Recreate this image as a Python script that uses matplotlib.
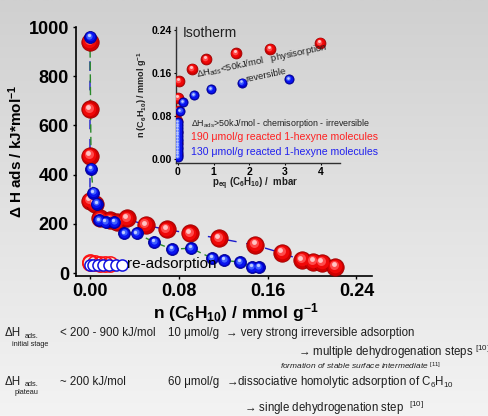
import numpy as np
import matplotlib
matplotlib.use("Agg")
import matplotlib.pyplot as plt
from matplotlib.colors import LinearSegmentedColormap
from matplotlib.transforms import offset_copy

plt.rcParams['font.family'] = ['Liberation Sans', 'DejaVu Sans']
plt.rcParams['mathtext.fontset'] = 'custom'
plt.rcParams['mathtext.rm'] = 'Liberation Sans'
plt.rcParams['mathtext.bf'] = 'Liberation Sans:bold'
plt.rcParams['mathtext.it'] = 'Liberation Sans:italic'

# ---------------- data: main calorimetry plot ----------------
red_n = [0.000, 0.000, 0.000, 0.000, 0.0045, 0.009, 0.018, 0.024, 0.033, 0.050,
         0.069, 0.090, 0.116, 0.149, 0.173, 0.191, 0.201, 0.209, 0.221]
red_h = [940, 665, 476, 294, 282, 222, 214, 206, 222, 194,
         177, 161, 141, 113, 81, 52, 44, 40, 24]
blue_n = [0.000, 0.001, 0.003, 0.006, 0.008, 0.014, 0.022, 0.031, 0.042, 0.058,
          0.074, 0.091, 0.110, 0.121, 0.135, 0.146, 0.152]
blue_h = [960, 423, 327, 282, 214, 206, 206, 161, 161, 125,
          97, 101, 60, 52, 44, 24, 24]
re_red_n = [0.000, 0.000, 0.0045, 0.009, 0.0135, 0.018]
re_red_h = [45, 42, 40, 38, 36, 35]
re_blue_n = [0.000, 0.003, 0.007, 0.012, 0.017, 0.023, 0.029]
re_blue_h = [32, 32, 32, 32, 32, 32, 32]
main_xticks = [0.00, 0.08, 0.16, 0.24]
main_yticks = [0, 200, 400, 600, 800, 1000]

# ---------------- data: isotherm inset ----------------
iso_red_p = [-0.02, -0.02, -0.02, -0.02, 0.00, 0.00, 0.03, 0.39, 0.78, 1.62, 2.58, 3.98]
iso_red_n = [0.010, 0.030, 0.050, 0.070, 0.090, 0.114, 0.145, 0.168, 0.186, 0.197, 0.205, 0.216]
iso_blue_p = [0.00, 0.00, 0.00, 0.00, 0.00, 0.00, 0.00, 0.00, 0.00, 0.00, 0.00, 0.00, 0.00,
              0.00, 0.06, 0.14, 0.45, 0.92, 1.79, 3.11]
iso_blue_n = [0.003, 0.008, 0.013, 0.018, 0.023, 0.028, 0.033, 0.038, 0.043, 0.048, 0.053,
              0.058, 0.063, 0.069, 0.089, 0.106, 0.119, 0.130, 0.142, 0.149]
iso_xticks = [0, 1, 2, 3, 4]
iso_yticks = [0.00, 0.08, 0.16, 0.24]

W, H = 488, 416
fig = plt.figure(figsize=(W / 100, H / 100), dpi=100)

# background gradient
bg = fig.add_axes([0, 0, 1, 1], zorder=-10)
grad = np.linspace(0, 1, 256).reshape(-1, 1)
cmap = LinearSegmentedColormap.from_list('bg', ['#f3f3f3', '#e2e2e2', '#d0d0d0'])
bg.imshow(grad, aspect='auto', cmap=cmap, extent=[0, 1, 0, 1], origin='lower')
bg.axis('off')


def px_box(x0, y0, x1, y1):
    return [x0 / W, 1 - y1 / H, (x1 - x0) / W, (y1 - y0) / H]


def spheres(ax, x, y, size, cols, edge, z):
    ax.plot(x, y, 'o', ms=size, mfc=cols[0], mec=edge, mew=0.6, ls='none', zorder=z)
    for k, (frac, col) in enumerate(zip([0.78, 0.52, 0.28], cols[1:])):
        sh = size * (1 - frac) * 0.22
        tr = offset_copy(ax.transData, fig=fig, x=-sh * 0.6, y=sh, units='points')
        ax.plot(x, y, 'o', ms=size * frac, mfc=col, mec='none', ls='none',
                zorder=z + 0.1 * (k + 1), transform=tr)


RED = ['#d00000', '#f00808', '#ff4a4a', '#ffc4c4']
BLUE = ['#0000c8', '#0a14f0', '#4060ff', '#c0ccff']

# ---------------- main axes ----------------
ax = fig.add_axes(px_box(76, 27, 372, 276))
ax.set_facecolor('none')
ax.set_xlim(-0.0126, 0.254)
ax.set_ylim(-12, 992)
for s in ['top', 'right']:
    ax.spines[s].set_visible(False)
for s in ['left', 'bottom']:
    ax.spines[s].set_linewidth(1.2)
ax.set_xticks(main_xticks)
ax.set_xticklabels([f'{v:.2f}' for v in main_xticks])
ax.set_yticks(main_yticks)
ax.set_yticklabels([str(v) for v in main_yticks])
ax.tick_params(length=2, width=1, labelsize=13, pad=3)
for lab in ax.get_xticklabels() + ax.get_yticklabels():
    lab.set_fontweight('bold')

ax.plot(red_n, red_h, color='#1a1acc', lw=1.0, dashes=(7, 7), zorder=2)
ax.plot(blue_n, blue_h, color='#2a8a2a', lw=1.0, dashes=(6, 3), zorder=2.5)
spheres(ax, red_n, red_h, 12.5, RED, '#a00000', 3)
spheres(ax, blue_n, blue_h, 8.6, BLUE, '#000090', 4)
ax.plot(re_red_n, re_red_h, 'o', ms=11, mfc='none', mec='#ff1010', mew=1.1, zorder=5)
ax.plot(re_blue_n, re_blue_h, 'o', ms=8, mfc='white', mec='#1010e0', mew=1.1, zorder=6)
ax.text(0.0335, 35, 're-adsorption', fontsize=11, color='black', ha='left', va='center', zorder=7)

ax.set_ylabel('Δ H ads / kJ*mol$^{\\mathbf{-1}}$', fontsize=11, fontweight='bold', va='center')
ax.yaxis.set_label_coords((16 - 76) / 296, 0.5)
ax.set_xlabel('n (C$_{\\mathbf{6}}$H$_{\\mathbf{10}}$) / mmol g$^{\\mathbf{-1}}$',
              fontsize=12.5, fontweight='bold', va='center')
ax.xaxis.set_label_coords((236 - 76) / 296, -(313 - 276) / 249)

# ---------------- inset ----------------
ia = fig.add_axes(px_box(176, 27, 340, 163))
ia.set_facecolor('none')
ia.set_xlim(-0.056, 4.54)
ia.set_ylim(-0.0074, 0.2458)
for s in ['top', 'right']:
    ia.spines[s].set_visible(False)
for s in ['left', 'bottom']:
    ia.spines[s].set_linewidth(1.0)
    ia.spines[s].set_color('#303030')
ia.set_xticks(iso_xticks)
ia.set_xticklabels([str(v) for v in iso_xticks])
ia.set_yticks(iso_yticks)
ia.set_yticklabels([f'{v:.2f}' for v in iso_yticks])
ia.tick_params(length=1.5, width=0.8, labelsize=7.5, pad=1.5)
for lab in ia.get_xticklabels() + ia.get_yticklabels():
    lab.set_fontweight('bold')
spheres(ia, iso_red_p, iso_red_n, 7.8, RED, '#a00000', 3)
spheres(ia, iso_blue_p, iso_blue_n, 6.6, BLUE, '#000090', 4)
ia.set_ylabel('n (C$_{\\mathbf{6}}$H$_{\\mathbf{10}}$) / mmol g$^{\\mathbf{-1}}$', fontsize=6.5,
              fontweight='bold', va='center', color='#202020')
ia.yaxis.set_label_coords((142 - 176) / 164, 0.5)
ia.set_xlabel('p$_{\\mathbf{eq}}$ (C$_{\\mathbf{6}}$H$_{\\mathbf{10}}$) /  mbar', fontsize=7,
              fontweight='bold', va='center', color='#202020')
ia.xaxis.set_label_coords((255 - 176) / 164, -(184 - 163) / 136)


def ftext(x, y, s, **kw):
    fig.text(x / W, 1 - y / H, s, **kw)


ftext(183, 33, 'Isotherm', fontsize=10, color='#202020', va='center')
ftext(197, 77, 'ΔH$_{\\mathrm{ads}}$<50kJ/mol   physisorption', fontsize=6.8, color='#202020',
      rotation=12, rotation_mode='anchor', va='baseline')
ftext(246, 82, 'reversible', fontsize=6.8, color='#202020',
      rotation=12, rotation_mode='anchor', va='baseline')
ftext(191, 123, 'ΔH$_{\\mathrm{ads}}$>50kJ/mol - chemisorption - irreversible', fontsize=6.4,
      color='#202020', va='center')
ftext(191, 137, '190 μmol/g reacted 1-hexyne molecules', fontsize=7.6, color='#ff2020', va='center')
ftext(191, 152, '130 μmol/g reacted 1-hexyne molecules', fontsize=7.6, color='#2020ee', va='center')

# ---------------- slide text below ----------------
tc = '#1e1e1e'
fs = 8.3
ftext(5, 333, 'ΔH', fontsize=fs, color=tc, va='center')
ftext(25, 336, 'ads.', fontsize=5.3, color=tc, va='center')
ftext(12, 344, 'initial stage', fontsize=5.3, color=tc, va='center')
ftext(60, 333, '< 200 - 900 kJ/mol', fontsize=fs, color=tc, va='center')
ftext(168, 333, '10 μmol/g', fontsize=fs, color=tc, va='center')
ftext(226, 333, '→ very strong irreversible adsorption', fontsize=fs, color=tc, va='center')
ftext(298, 352, '→ multiple dehydrogenation steps $^{[10]}$', fontsize=fs, color=tc, va='center')
ftext(280, 366, 'formation of stable surface intermediate $^{[11]}$', fontsize=6.0, color=tc,
      va='center', style='italic')
ftext(5, 382, 'ΔH', fontsize=fs, color=tc, va='center')
ftext(25, 385, 'ads.', fontsize=5.3, color=tc, va='center')
ftext(15, 393, 'plateau', fontsize=5.3, color=tc, va='center')
ftext(60, 382, '~ 200 kJ/mol', fontsize=fs, color=tc, va='center')
ftext(168, 382, '60 μmol/g', fontsize=fs, color=tc, va='center')
ftext(226, 382, '→dissociative homolytic adsorption of C$_6$H$_{10}$', fontsize=fs, color=tc, va='center')
ftext(244, 408, '→ single dehydrogenation step  $^{[10]}$', fontsize=fs, color=tc, va='center')

fig.savefig('out.png', dpi=100)
